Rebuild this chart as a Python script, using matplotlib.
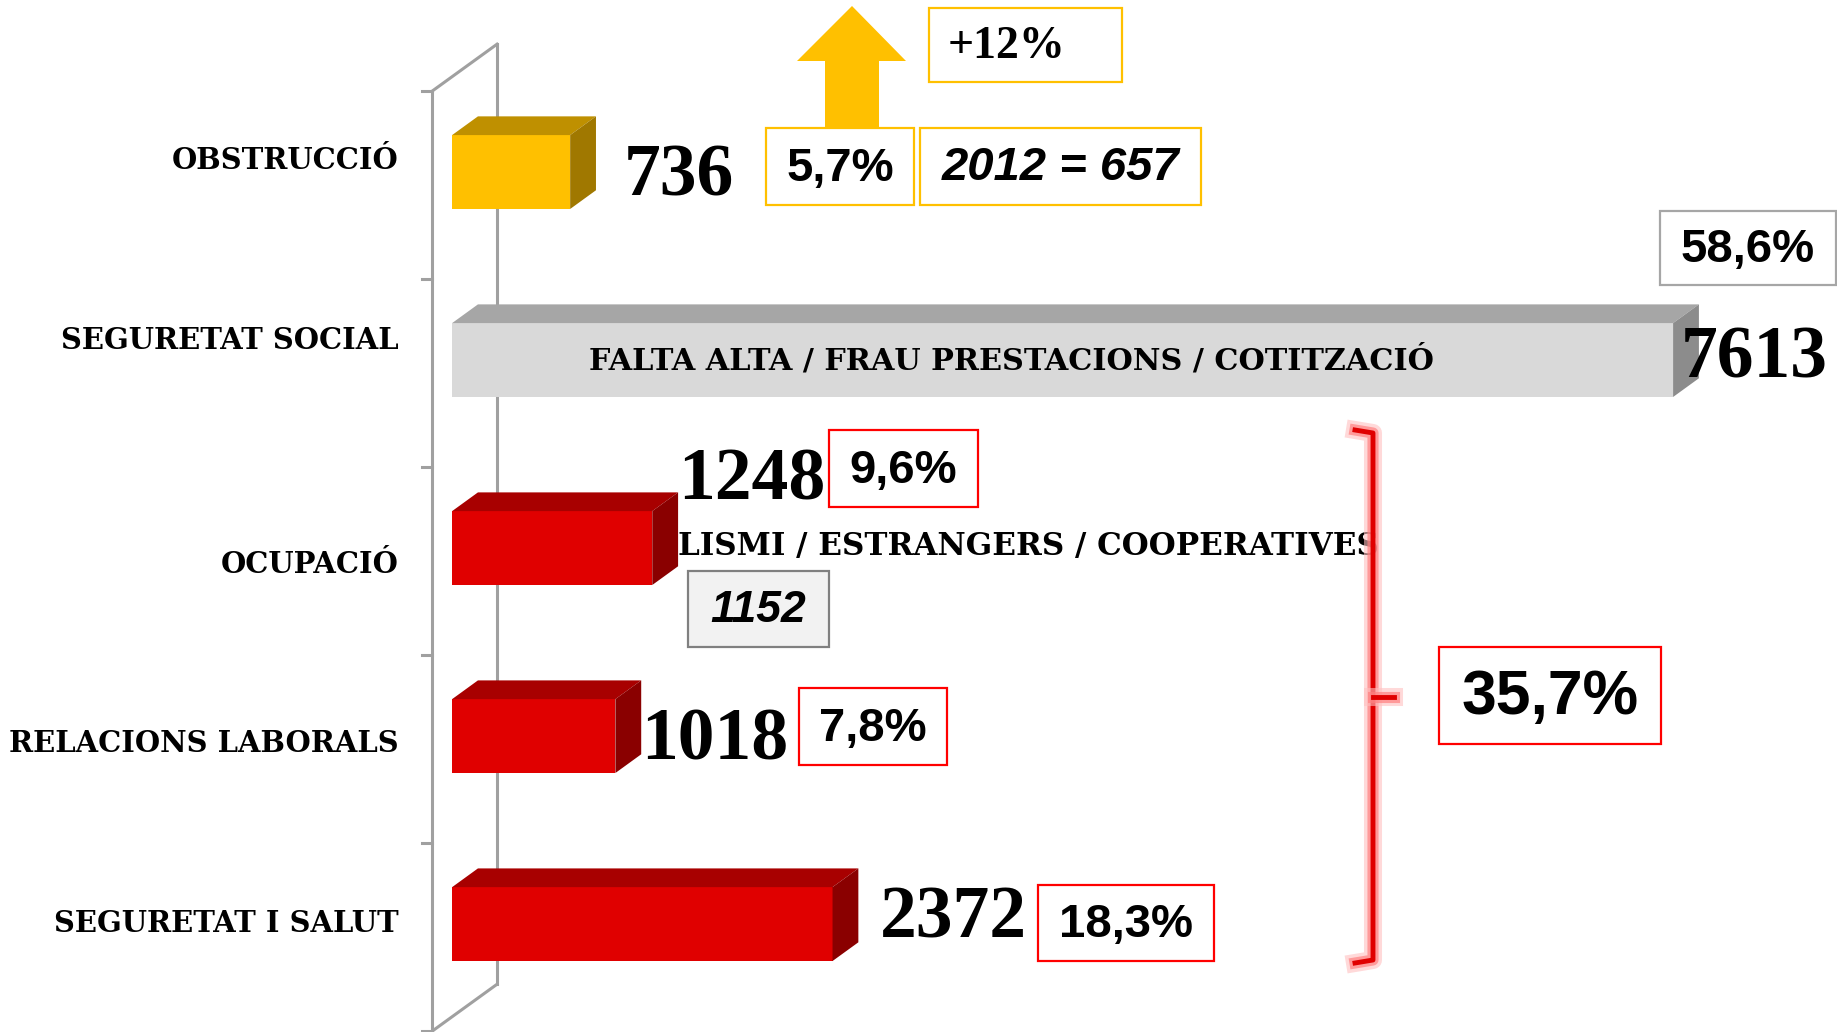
import numpy as np
import matplotlib.pyplot as plt
import matplotlib.patheffects as pe
from matplotlib.patches import Rectangle, Polygon

# categories (top to bottom) and number of infractions
categories = ["OBSTRUCCIÓ", "SEGURETAT SOCIAL", "OCUPACIÓ",
              "RELACIONS LABORALS", "SEGURETAT I SALUT"]
values = [736, 7613, 1248, 1018, 2372]

front_colors = ["#FFC000", "#D9D9D9", "#E00000", "#E00000", "#E00000"]
top_colors = ["#BF9000", "#A6A6A6", "#A80000", "#A80000", "#A80000"]
side_colors = ["#A07800", "#8C8C8C", "#8A0000", "#8A0000", "#8A0000"]

# nudges (px, +y = down) for the value labels, relative to the end of each bar
label_nudge = [(28, 5), (-18, -1), (0, -67), (0, 5), (22, -5)]
# vertical nudges (px) for the category labels
cat_nudge = [-12, -20, 16, 7, -1]

W, H = 1837, 1032
fig = plt.figure(figsize=(W / 100, H / 100), dpi=100)

# data axes: x in counts, y in category index (0 on top)
ax = fig.add_axes([0, 0, 1, 1])
ax.set_xlim(-2819, 8635)
ax.set_ylim(4.574, -0.915)
ax.axis("off")

# overlay axes in pixel coords for the callout boxes
ov = fig.add_axes([0, 0, 1, 1], zorder=5)
ov.set_xlim(0, W)
ov.set_ylim(H, 0)
ov.axis("off")
ov.patch.set_alpha(0)

px_per_unit = (ax.transData.transform((1000, 0))[0] - ax.transData.transform((0, 0))[0]) / 1000
px_per_cat = abs(ax.transData.transform((0, 1))[1] - ax.transData.transform((0, 0))[1])

bar_h = 0.393
dx, dy = 161, 0.0996          # 3d depth of the bars
wall_dx, wall_dy = 405, 0.25  # depth of the category wall
wall_x = -125
wall_top = -0.43
wall_bot = wall_top + len(categories)
axis_col = "#A0A0A0"

# category wall (front and back lines, ticks, diagonals)
ax.plot([wall_x, wall_x], [wall_top, wall_bot + 0.2], color=axis_col, lw=2.2, zorder=1)
ax.plot([wall_x + wall_dx, wall_x + wall_dx], [wall_top - wall_dy, wall_bot - wall_dy],
        color=axis_col, lw=2.2, zorder=1)
ax.plot([wall_x, wall_x + wall_dx], [wall_top, wall_top - wall_dy], color=axis_col, lw=2.2, zorder=1)
ax.plot([wall_x, wall_x + wall_dx], [wall_bot, wall_bot - wall_dy], color=axis_col, lw=2.2, zorder=1)
for t in wall_top + np.arange(len(categories) + 1):
    ax.plot([wall_x - 65, wall_x], [t, t], color=axis_col, lw=2.2, zorder=1)

# 3d bars
for i, (v, fc, tc, sc) in enumerate(zip(values, front_colors, top_colors, side_colors)):
    y0, y1 = i - bar_h / 2, i + bar_h / 2
    ax.add_patch(Rectangle((0, y0), v, bar_h, facecolor=fc, edgecolor="none", zorder=3))
    ax.add_patch(Polygon([(0, y0), (v, y0), (v + dx, y0 - dy), (dx, y0 - dy)],
                         facecolor=tc, edgecolor="none", zorder=3))
    ax.add_patch(Polygon([(v, y0), (v + dx, y0 - dy), (v + dx, y1 - dy), (v, y1)],
                         facecolor=sc, edgecolor="none", zorder=3))
    ax.text(wall_x - 211, i + cat_nudge[i] / px_per_cat, categories[i], ha="right", va="center",
            fontsize=20.9, fontweight="bold", family="DejaVu Serif", zorder=4)
    nx, ny = label_nudge[i]
    ax.text(v + dx + nx / px_per_unit, i + ny / px_per_cat, str(v),
            ha="left", va="center", fontsize=53, fontweight="bold",
            family="Liberation Serif", zorder=6)

ax.text(0.5 * (values[1] + dx) - 400, 1, "FALTA ALTA / FRAU PRESTACIONS / COTITZACIÓ",
        ha="center", va="center", fontsize=21.8, fontweight="bold",
        family="DejaVu Serif", zorder=4)
ax.text(values[2] + dx, 2 - 0.01, "LISMI / ESTRANGERS / COOPERATIVES", ha="left", va="center",
        fontsize=22.3, fontweight="bold", family="DejaVu Serif", zorder=2)


def box(x0, y0, x1, y1, text, edge, size=34, style="normal", family="Liberation Sans",
        face="white", shift=0):
    ov.add_patch(Rectangle((x0, y0), x1 - x0, y1 - y0, facecolor=face, edgecolor=edge, lw=1.6))
    ov.text((x0 + x1) / 2 + shift, (y0 + y1) / 2 + 2, text, ha="center", va="center", fontsize=size,
            fontweight="bold", fontstyle=style, family=family)


yellow, red, grey = "#FFC000", "#FF0000", "#A6A6A6"

# growth arrow
ov.add_patch(Polygon([(825, 129), (879, 129), (879, 61), (906, 61), (852, 6), (797, 61), (825, 61)],
                     facecolor=yellow, edgecolor="none"))
box(929, 8, 1122, 82, "+12%", yellow, size=33, family="Liberation Serif", shift=-19)
box(766, 128, 914, 205, "5,7%", yellow)
box(920, 128, 1201, 205, "2012 = 657", yellow, style="italic")
box(1660, 211, 1836, 285, "58,6%", grey)
box(829, 430, 978, 507, "9,6%", red)
box(688, 571, 829, 647, "1152", "#808080", size=32, style="italic", face="#F2F2F2")
box(799, 688, 947, 765, "7,8%", red)
box(1038, 885, 1214, 961, "18,3%", red)
box(1439, 647, 1661, 744, "35,7%", red, size=45)

# red bracket grouping the last three categories
glow = [pe.Stroke(linewidth=13, foreground="#FFC0C0", alpha=0.6),
        pe.Stroke(linewidth=8, foreground="#FF8080", alpha=0.7), pe.Normal()]
ov.plot([1355, 1373, 1373, 1355], [430, 433, 960, 963], color="#E00000", lw=3.5,
        solid_joinstyle="round", path_effects=glow)
ov.plot([1373, 1394], [697, 697], color="#E00000", lw=3.5, path_effects=glow)

fig.savefig("out.png", dpi=100)
